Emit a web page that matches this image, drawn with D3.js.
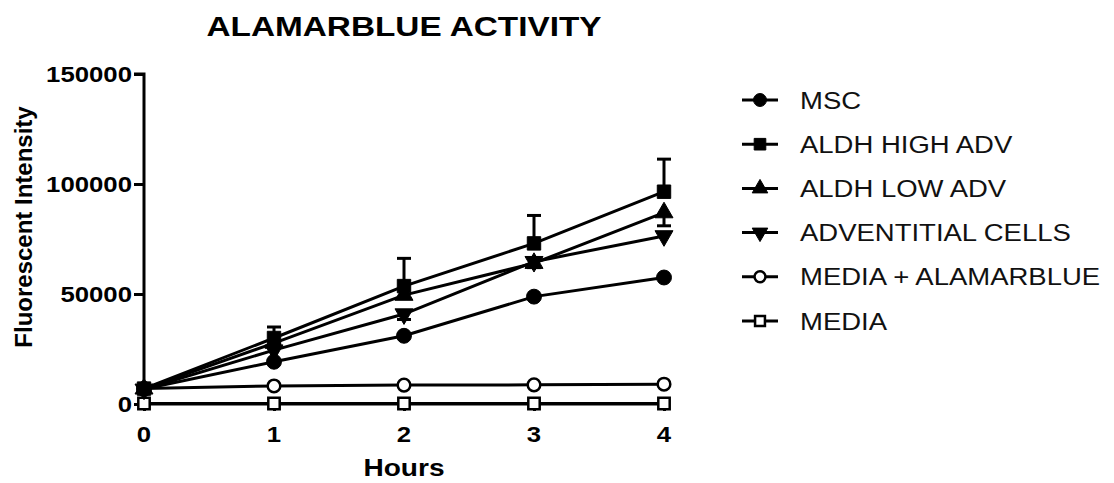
<!DOCTYPE html>
<html lang="en">
<head>
    <meta charset="UTF-8">
    <title>Alamarblue activity</title>
    <script src="https://cdn.jsdelivr.net/npm/d3@7"></script>
    <style>
        body { margin: 0; background: #fff; }
        text { font-family: "Liberation Sans", Arial, sans-serif; fill: #000; }
    </style>
</head>
<body>
<script>

    // values
    const hours = [0, 1, 2, 3, 4];
    const yTicks = [0, 50000, 100000, 150000];
    const seriesNames = ["MSC", "ALDH HIGH ADV", "ALDH LOW ADV", "ADVENTITIAL CELLS", "MEDIA + ALAMARBLUE", "MEDIA"];
    const msc = [6800, 19200, 31000, 48800, 57500];
    const aldhHigh = [7000, 30000, 53600, 73000, 96500];
    const aldhLow = [6900, 27700, 49500, 64000, 87000];
    const adventitial = [6700, 24500, 40900, 64700, 76400];
    const mediaAlamar = [7000, 8200, 8600, 8700, 9000];
    const media = [200, 200, 200, 200, 200];
    // error bars (SD), GraphPad style: only one side shown
    const aldhHighErr = [500, 5000, 12600, 12700, 14800];   // drawn up
    const aldhLowErr = [0, 0, 0, 2000, 6000];               // drawn down
    const adventitialErr = [0, 0, 2500, 0, 0];              // drawn down

    const W = 1114, H = 483;
    const stretch = 1.17;  // the source image is a bit wider than tall

    const svg = d3.select("body").append("svg").attr("width", W).attr("height", H);

    const x = d3.scaleLinear().domain([0, 4]).range([144, 664]);
    const y = d3.scaleLinear().domain([0, 150000]).range([404, 74]);

    const series = [
        {name: seriesNames[0], values: msc, symbol: d3.symbolCircle, size: 175, fill: "#000"},
        {name: seriesNames[1], values: aldhHigh, symbol: d3.symbolSquare, size: 180, fill: "#000", err: aldhHighErr, dir: -1},
        {name: seriesNames[2], values: aldhLow, symbol: d3.symbolTriangle, size: 140, fill: "#000", err: aldhLowErr, dir: 1},
        {name: seriesNames[3], values: adventitial, symbol: d3.symbolTriangle, size: 140, fill: "#000", rot: 180, err: adventitialErr, dir: 1},
        {name: seriesNames[4], values: mediaAlamar, symbol: d3.symbolCircle, size: 125, fill: "#fff"},
        {name: seriesNames[5], values: media, symbol: d3.symbolSquare, size: 130, fill: "#fff"}
    ];

    // stretched text helper
    const label = (g, tx, ty, str, size, weight, anchor) => g.append("text")
        .attr("transform", `translate(${tx},${ty}) scale(${stretch},1)`)
        .attr("text-anchor", anchor || "start")
        .style("font-size", size + "px")
        .style("font-weight", weight || "normal")
        .text(str);

    // title
    label(svg, 404, 36, "ALAMARBLUE ACTIVITY", 28.5, "bold", "middle");

    // y axis
    const yAxis = svg.append("g")
        .attr("transform", `translate(${x(0)},0)`)
        .call(d3.axisLeft(y).tickValues(yTicks).tickSize(10).tickFormat(""));
    yAxis.select(".domain").attr("d", `M-10,${y(150000)}H0V${y(0) + 6}`);
    yAxis.selectAll("line, path").attr("stroke", "#000").attr("stroke-width", 3);
    yTicks.forEach(v => label(svg, x(0) - 12, y(v) + 8, d3.format("d")(v), 22, "bold", "end"));

    // x axis
    const xAxis = svg.append("g")
        .attr("transform", `translate(0,${y(0)})`)
        .call(d3.axisBottom(x).tickValues(hours).tickSize(7).tickFormat(""));
    xAxis.selectAll("line, path").attr("stroke", "#000").attr("stroke-width", 3);
    xAxis.select(".domain").attr("d", `M${x(0)},0H${x(4)}`);
    hours.forEach(v => label(svg, x(v), 442, String(v), 22, "bold", "middle"));

    label(svg, 404, 476, "Hours", 24, "bold", "middle");
    svg.append("text")
        .attr("transform", `translate(32,227) rotate(-90)`)
        .attr("text-anchor", "middle")
        .style("font-size", "24px")
        .style("font-weight", "bold")
        .text("Fluorescent Intensity");

    const line = d3.line().x((d, i) => x(hours[i])).y(d => y(d));
    const sym = s => d3.symbol().type(s.symbol).size(s.size)();

    // lines
    svg.append("g").selectAll("path")
        .data(series.slice().reverse())
        .join("path")
        .attr("fill", "none")
        .attr("stroke", "#000")
        .attr("stroke-width", 3)
        .attr("d", s => line(s.values));

    // error bars
    series.filter(s => s.err).forEach(s => {
        const g = svg.append("g").attr("stroke", "#000").attr("stroke-width", 3);
        s.values.forEach((v, i) => {
            if (!s.err[i]) return;
            const y0 = y(v), y1 = y(v - s.dir * s.err[i]);
            g.append("line").attr("x1", x(hours[i])).attr("x2", x(hours[i])).attr("y1", y0).attr("y2", y1);
            g.append("line").attr("x1", x(hours[i]) - 7).attr("x2", x(hours[i]) + 7).attr("y1", y1).attr("y2", y1);
        });
    });

    // markers
    series.slice().reverse().forEach(s => {
        svg.append("g").selectAll("path")
            .data(s.values)
            .join("path")
            .attr("transform", (d, i) => `translate(${x(hours[i])},${y(d)}) rotate(${s.rot || 0})`)
            .attr("d", sym(s))
            .attr("fill", s.fill)
            .attr("stroke", "#000")
            .attr("stroke-width", s.fill === "#fff" ? 2.5 : 1);
    });

    // legend
    const leg = svg.append("g");
    series.forEach((s, i) => {
        const ly = 100 + i * 44.2;
        leg.append("line").attr("x1", 742).attr("x2", 778).attr("y1", ly).attr("y2", ly)
            .attr("stroke", "#000").attr("stroke-width", 3);
        leg.append("path")
            .attr("transform", `translate(760,${ly}) rotate(${s.rot || 0})`)
            .attr("d", d3.symbol().type(s.symbol).size(s.size * 0.75)())
            .attr("fill", s.fill)
            .attr("stroke", "#000")
            .attr("stroke-width", s.fill === "#fff" ? 2.5 : 1);
        label(leg, 800, ly + 8.5, s.name, 23.5, "normal", "start").style("fill", "#111");
    });

</script>
</body>
</html>
